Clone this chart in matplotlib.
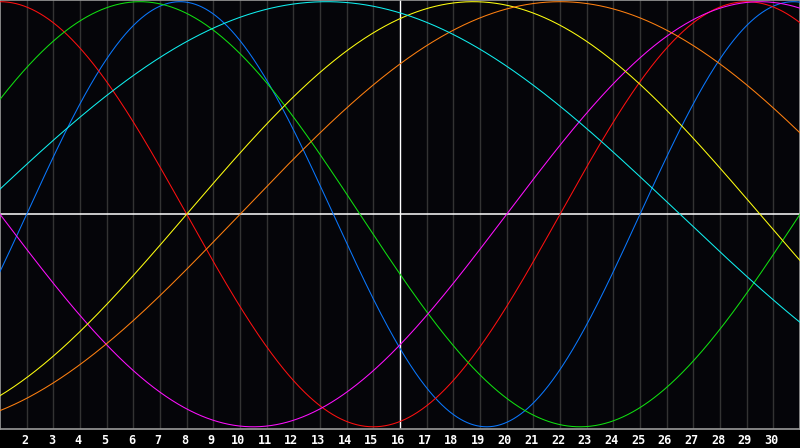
import numpy as np
import matplotlib
matplotlib.use('Agg')
import matplotlib.pyplot as plt
from matplotlib.transforms import ScaledTranslation

# chart covers 30 days, day 1 on the left edge, day 16 is "today"
days = list(range(1, 32))
tick_days = list(range(2, 31))
today = 16

# cycles: length in days, day of the cycle on day 1, colour
cycle_names = ['Physical', 'Emotional', 'Intellectual', 'Intuitive',
               'Aesthetic', 'Awareness', 'Spiritual']
cycle_length = [23, 28, 33, 38, 43, 48, 53]
cycle_phase = [22, 7, 3, 19, 36, 39, 1]
cycle_color = ['#0a78ff', '#ff1010', '#10e010', '#ff10ff',
               '#ffff10', '#ff8010', '#10f0f0']

bg = '#050509'

fig = plt.figure(figsize=(8, 4.48), dpi=100)
fig.patch.set_facecolor('black')
ax = fig.add_axes([0, 19.5 / 448, 1, 428.5 / 448])
ax.set_facecolor(bg)

t = np.linspace(days[0], days[-1], 1200)
for name, length, phase, col in zip(cycle_names, cycle_length, cycle_phase, cycle_color):
    y = np.sin(2 * np.pi * (t - days[0] + phase) / length)
    ax.plot(t, y, color=col, lw=0.75, label=name, zorder=3)

# day grid
for d in tick_days:
    if d != today:
        ax.axvline(d, color='#333333', lw=1, zorder=1)
ax.axvline(today, color='white', lw=1.0, zorder=2)
ax.axhline(0, color='white', lw=1.1, zorder=2)

ax.set_xlim(days[0], days[-1])
ax.set_ylim(-1.008, 1.008)
ax.set_yticks([])
ax.set_xticks(tick_days)
ax.set_xticklabels([str(d) for d in tick_days], color='white',
                   fontsize=8.5, fontweight='bold', family='DejaVu Sans Mono')
ax.tick_params(axis='x', length=0, pad=4)
shift = ScaledTranslation(-2 / 100, 0, fig.dpi_scale_trans)
for lab in ax.get_xticklabels():
    lab.set_transform(lab.get_transform() + shift)
for s in ax.spines.values():
    s.set_color('#9a9a9a')
    s.set_linewidth(1.2)

fig.savefig('out.png', dpi=100, facecolor=fig.get_facecolor())
